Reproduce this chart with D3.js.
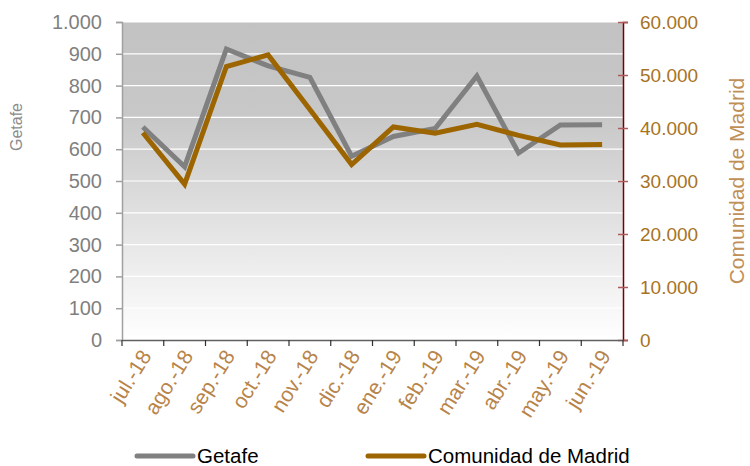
<!DOCTYPE html>
<html><head><meta charset="utf-8">
<script src="https://cdn.jsdelivr.net/npm/d3@7"></script>
<style>body{margin:0;background:#fff}svg{display:block;font-family:"Liberation Sans",Arial,sans-serif}</style>
</head><body><svg id="c" width="750" height="466"></svg>
<script>
const months = ["jul.-18","ago.-18","sep.-18","oct.-18","nov.-18","dic.-18","ene.-19","feb.-19","mar.-19","abr.-19","may.-19","jun.-19"];
const getafe = [670, 545, 915, 862, 826, 578, 640, 665, 830, 588, 676, 677];
const madrid = [39100, 29400, 51600, 53800, 43500, 33100, 40200, 39000, 40700, 38600, 36800, 36900];
const leftTicks = [0,100,200,300,400,500,600,700,800,900,1000];
const rightTicks = [0,10000,20000,30000,40000,50000,60000];

const svg = d3.select("#c");
const L = 122, R = 623, T = 22, B = 340;
const x = d3.scaleBand().domain(months).range([L, R]);
const yL = d3.scaleLinear().domain([0, 1000]).range([B, T]);
const yR = d3.scaleLinear().domain([0, 60000]).range([B, T]);
const fmt = d3.formatLocale({decimal: ",", thousands: ".", grouping: [3], currency: ["", "€"]}).format(",d");

const defs = svg.append("defs");
const g = defs.append("linearGradient").attr("id","bg").attr("x1",0).attr("y1",0).attr("x2",0).attr("y2",1);
g.append("stop").attr("offset","0%").attr("stop-color","#c2c2c2");
g.append("stop").attr("offset","30%").attr("stop-color","#c8c8c8");
g.append("stop").attr("offset","100%").attr("stop-color","#ffffff");
svg.append("rect").attr("x",L).attr("y",T).attr("width",R-L).attr("height",B-T).attr("fill","url(#bg)");

// gridlines
svg.append("g").selectAll("line").data(leftTicks.filter(d=>d>0)).join("line")
  .attr("x1",L).attr("x2",R).attr("y1",d=>yL(d)).attr("y2",d=>yL(d))
  .attr("stroke","#ffffff").attr("stroke-width",1.2);

// left axis
const la = svg.append("g").attr("transform",`translate(${L},0)`)
  .call(d3.axisLeft(yL).tickValues(leftTicks).tickFormat(fmt).tickSize(6).tickPadding(14));
la.select(".domain").attr("stroke","#a0a0a0").attr("stroke-width",1.5);
la.selectAll(".tick line").attr("stroke","#a0a0a0").attr("stroke-width",1.5);
la.selectAll("text").attr("fill","#7f7f7f").attr("font-size",20).attr("font-family","Liberation Sans, Arial, sans-serif");

// right axis
const ra = svg.append("g").attr("transform",`translate(${R},0)`)
  .call(d3.axisRight(yR).tickValues(rightTicks).tickFormat(fmt).tickSize(5).tickPadding(12));
ra.select(".domain").attr("stroke","#7a0000").attr("stroke-width",1.5);
ra.selectAll(".tick line").attr("x1",-5).attr("stroke","#b05a5a").attr("stroke-width",1.5);
ra.selectAll("text").attr("fill","#a8731e").attr("font-size",19).attr("font-family","Liberation Sans, Arial, sans-serif");

// x axis
const xa = svg.append("g").attr("transform",`translate(0,${B})`)
  .call(d3.axisBottom(x).tickSize(0).tickFormat(""));
xa.select(".domain").attr("stroke","#606060").attr("stroke-width",1.5);
const bounds = months.map(m=>x(m)).concat([R]);
svg.append("g").selectAll("line").data(bounds).join("line")
  .attr("x1",d=>d).attr("x2",d=>d).attr("y1",B).attr("y2",B+6)
  .attr("stroke","#303030").attr("stroke-width",1.2);
svg.append("g").selectAll("text").data(months).join("text")
  .attr("transform",d=>`translate(${x(d)+x.bandwidth()/2+3},${B+12}) rotate(-58)`)
  .attr("text-anchor","end").attr("dy","0.35em")
  .attr("fill","#b8844a").attr("font-size",21).text(d=>d);

// axis titles
svg.append("text").attr("transform","translate(22,127) rotate(-90)").attr("text-anchor","middle")
  .attr("fill","#8c8c8c").attr("font-size",16).text("Getafe");
svg.append("text").attr("transform","translate(744,181) rotate(-90)").attr("text-anchor","middle")
  .attr("fill","#bf8f58").attr("font-size",21).text("Comunidad de Madrid");

// lines
const cx = d=>x(d)+x.bandwidth()/2;
svg.append("path").datum(getafe.map((v,i)=>[cx(months[i]),yL(v)]))
  .attr("d",d3.line()).attr("fill","none").attr("stroke","#808080").attr("stroke-width",5).attr("stroke-linejoin","miter");
svg.append("path").datum(madrid.map((v,i)=>[cx(months[i]),yR(v)]))
  .attr("d",d3.line()).attr("fill","none").attr("stroke","#9c6500").attr("stroke-width",5).attr("stroke-linejoin","miter");

// legend
const leg = [{name:"Getafe",color:"#808080",x:137},{name:"Comunidad de Madrid",color:"#9c6500",x:368}];
const lg = svg.append("g").selectAll("g").data(leg).join("g").attr("transform",d=>`translate(${d.x},456)`);
lg.append("line").attr("x1",0).attr("x2",56).attr("stroke",d=>d.color).attr("stroke-width",5).attr("stroke-linecap","round");
lg.append("text").attr("x",60).attr("dy","0.33em").attr("font-size",20.5).attr("fill","#000").text(d=>d.name);
</script></body></html>
